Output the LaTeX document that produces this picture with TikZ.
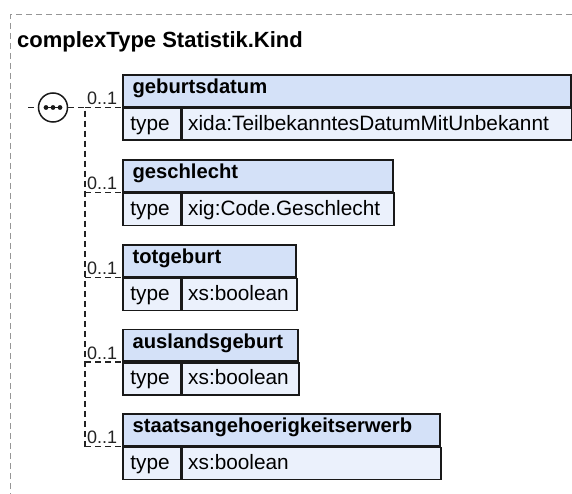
\documentclass[tikz,border=0pt]{standalone}
\usepackage{fontspec}
\setmainfont{Liberation Sans}
\definecolor{hdrc}{RGB}{212,225,248}
\definecolor{valc}{RGB}{235,241,252}
\definecolor{edgec}{RGB}{25,25,25}
\definecolor{framec}{RGB}{150,150,150}
\definecolor{connc}{RGB}{35,35,35}
\tikzset{
  hdr/.style={draw=edgec, line width=1.8pt, fill=hdrc, anchor=north west, inner xsep=9.7pt, inner ysep=4pt,
    text height=14.7pt, text depth=9pt, align=left, font=\bfseries\fontsize{20.2}{24}\selectfont},
  tlab/.style={draw=edgec, line width=1.8pt, fill=valc, anchor=north west, inner xsep=7.5pt, inner ysep=4pt,
    text height=18pt, text depth=6pt, text width=42.5pt, align=left, font=\fontsize{20.8}{24}\selectfont},
  tval/.style={draw=edgec, line width=1.8pt, fill=valc, anchor=north west, inner xsep=6pt, inner ysep=4pt,
    text height=18pt, text depth=6pt, align=left, font=\fontsize{20.8}{24}\selectfont},
  conn/.style={draw=connc, line width=1.5pt, dash pattern=on 6pt off 4pt},
  frame/.style={draw=framec, line width=1pt, dash pattern=on 6pt off 4pt},
  mult/.style={pos=1, anchor=base east, xshift=-4pt, yshift=3pt, inner sep=0pt, font=\fontsize{18}{20}\selectfont, text=connc},
  seqc/.style={draw=edgec, line width=1.5pt, fill=white, circle, minimum size=29pt, inner sep=0pt},
  titlef/.style={anchor=base west, inner sep=0pt, font=\bfseries\fontsize{22}{26}\selectfont}
}
\newcommand{\xelem}[6]{%
  \node[hdr, text width=#3pt] (h#1) at (122,#2) {#5};
  \node[tlab] (t#1) at (h#1.south west) {type};
  \node[tval, text width=#4pt] (v#1) at (t#1.north east) {#6};
}
\begin{document}
\begin{tikzpicture}[x=1pt,y=-1pt]
\useasboundingbox (0,0) rectangle (572,494);
% outer frame
\coordinate (fa) at (572,15);
\coordinate (fb) at (10,15);
\coordinate (fc) at (10,494);
\draw[frame] (fa) -- (fb) -- (fc);
\node[titlef] (title) at (17,47.5) {complexType Statistik.Kind};
% elements
\xelem{1}{74}{428.6}{377.5}{geburtsdatum}{xida:TeilbekanntesDatumMitUnbekannt}
\xelem{2}{159}{250.6}{199.5}{geschlecht}{xig:Code.Geschlecht}
\xelem{3}{244}{153.6}{102.5}{totgeburt}{xs:boolean}
\xelem{4}{328.5}{155.6}{104.5}{auslandsgeburt}{xs:boolean}
\xelem{5}{413}{297.6}{246.5}{staatsangehoerigkeitserwerb}{xs:boolean}
% sequence compositor
\coordinate (jx) at (85,0);
\coordinate (j1) at (jx |- h1.south west);
\coordinate (j2) at (jx |- h2.south west);
\coordinate (j3) at (jx |- h3.south west);
\coordinate (j4) at (jx |- h4.south west);
\coordinate (j5) at (jx |- h5.south west);
\node[seqc] (seq) at (53,0 |- h1.south west) {};
\coordinate (inp) at (28,0 |- h1.south west);
\draw[conn] (inp) -- (seq.west);
\draw[conn] (seq.east) -- (j1) -- (j5);
\draw[line width=1.4pt, draw=edgec] (seq.center) ++(-7,0) -- ++(14,0);
\foreach \dx in {-7,0,7} \fill[edgec] (seq.center) ++(\dx,0) circle (2.4);
\foreach \i in {1,...,5}
  \draw[conn] (j\i) -- node[mult] {0..1} (h\i.south west);
\end{tikzpicture}
\end{document}
